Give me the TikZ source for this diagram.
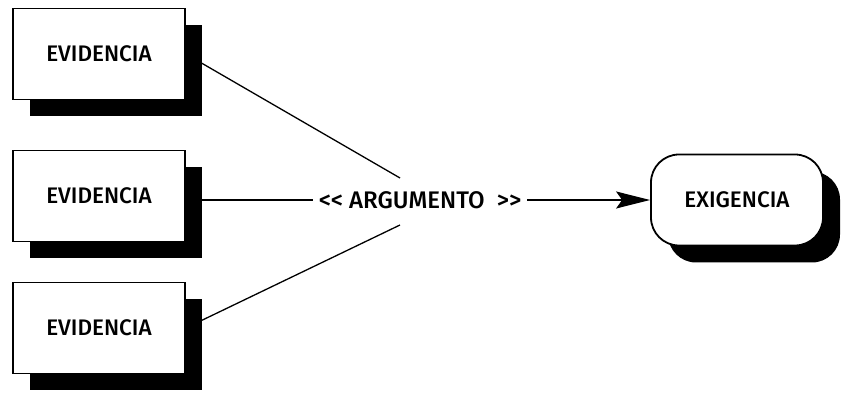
\documentclass[tikz,border=0pt]{standalone}
\usepackage{fontspec}
\setmainfont{Fira Sans}
\newfontfamily\labelfont{Fira Sans Medium}
\usepackage{tikz}
\usetikzlibrary{arrows.meta,shadows,backgrounds}
\definecolor{inkblack}{gray}{0.0}

\begin{document}
\begin{tikzpicture}[x=1pt,y=-1pt,
    evbox/.style={draw=inkblack,line width=1.8pt,fill=white,minimum width=172pt,minimum height=91pt,
      font=\labelfont\fontsize{22.5}{24}\selectfont,
      drop shadow={shadow xshift=17pt,shadow yshift=-17pt,opacity=1,fill=inkblack}},
    claimbox/.style={evbox,rounded corners=28pt},
    link/.style={draw=inkblack,line width=1.3pt}]
        \useasboundingbox (0,0) rectangle (844,395);
        \node[evbox] (ev1) at (99,54) {EVIDENCIA};
        \node[evbox] (ev2) at (99,196) {EVIDENCIA};
        \node[evbox] (ev3) at (99,328) {EVIDENCIA};
        \node[font=\labelfont\fontsize{24}{26}\selectfont,inner sep=6pt] (arg) at (420,200) {<< ARGUMENTO~~>>};
        \node[claimbox] (exi) at (737,200) {EXIGENCIA};
        \coordinate (top) at (400,178);
        \coordinate (bot) at (400,225);
        \begin{scope}[on background layer]
          \draw[link] (ev1.east) -- (top);
          \draw[link] (ev3.east) -- (bot);
          \draw[link] (arg.west -| ev2.east) -- (arg.west);
        \end{scope}
        \draw[link,-{Stealth[length=34pt,width=17pt,inset=6pt]}] (arg.east) -- (exi.west);
      \end{tikzpicture}
\end{document}
